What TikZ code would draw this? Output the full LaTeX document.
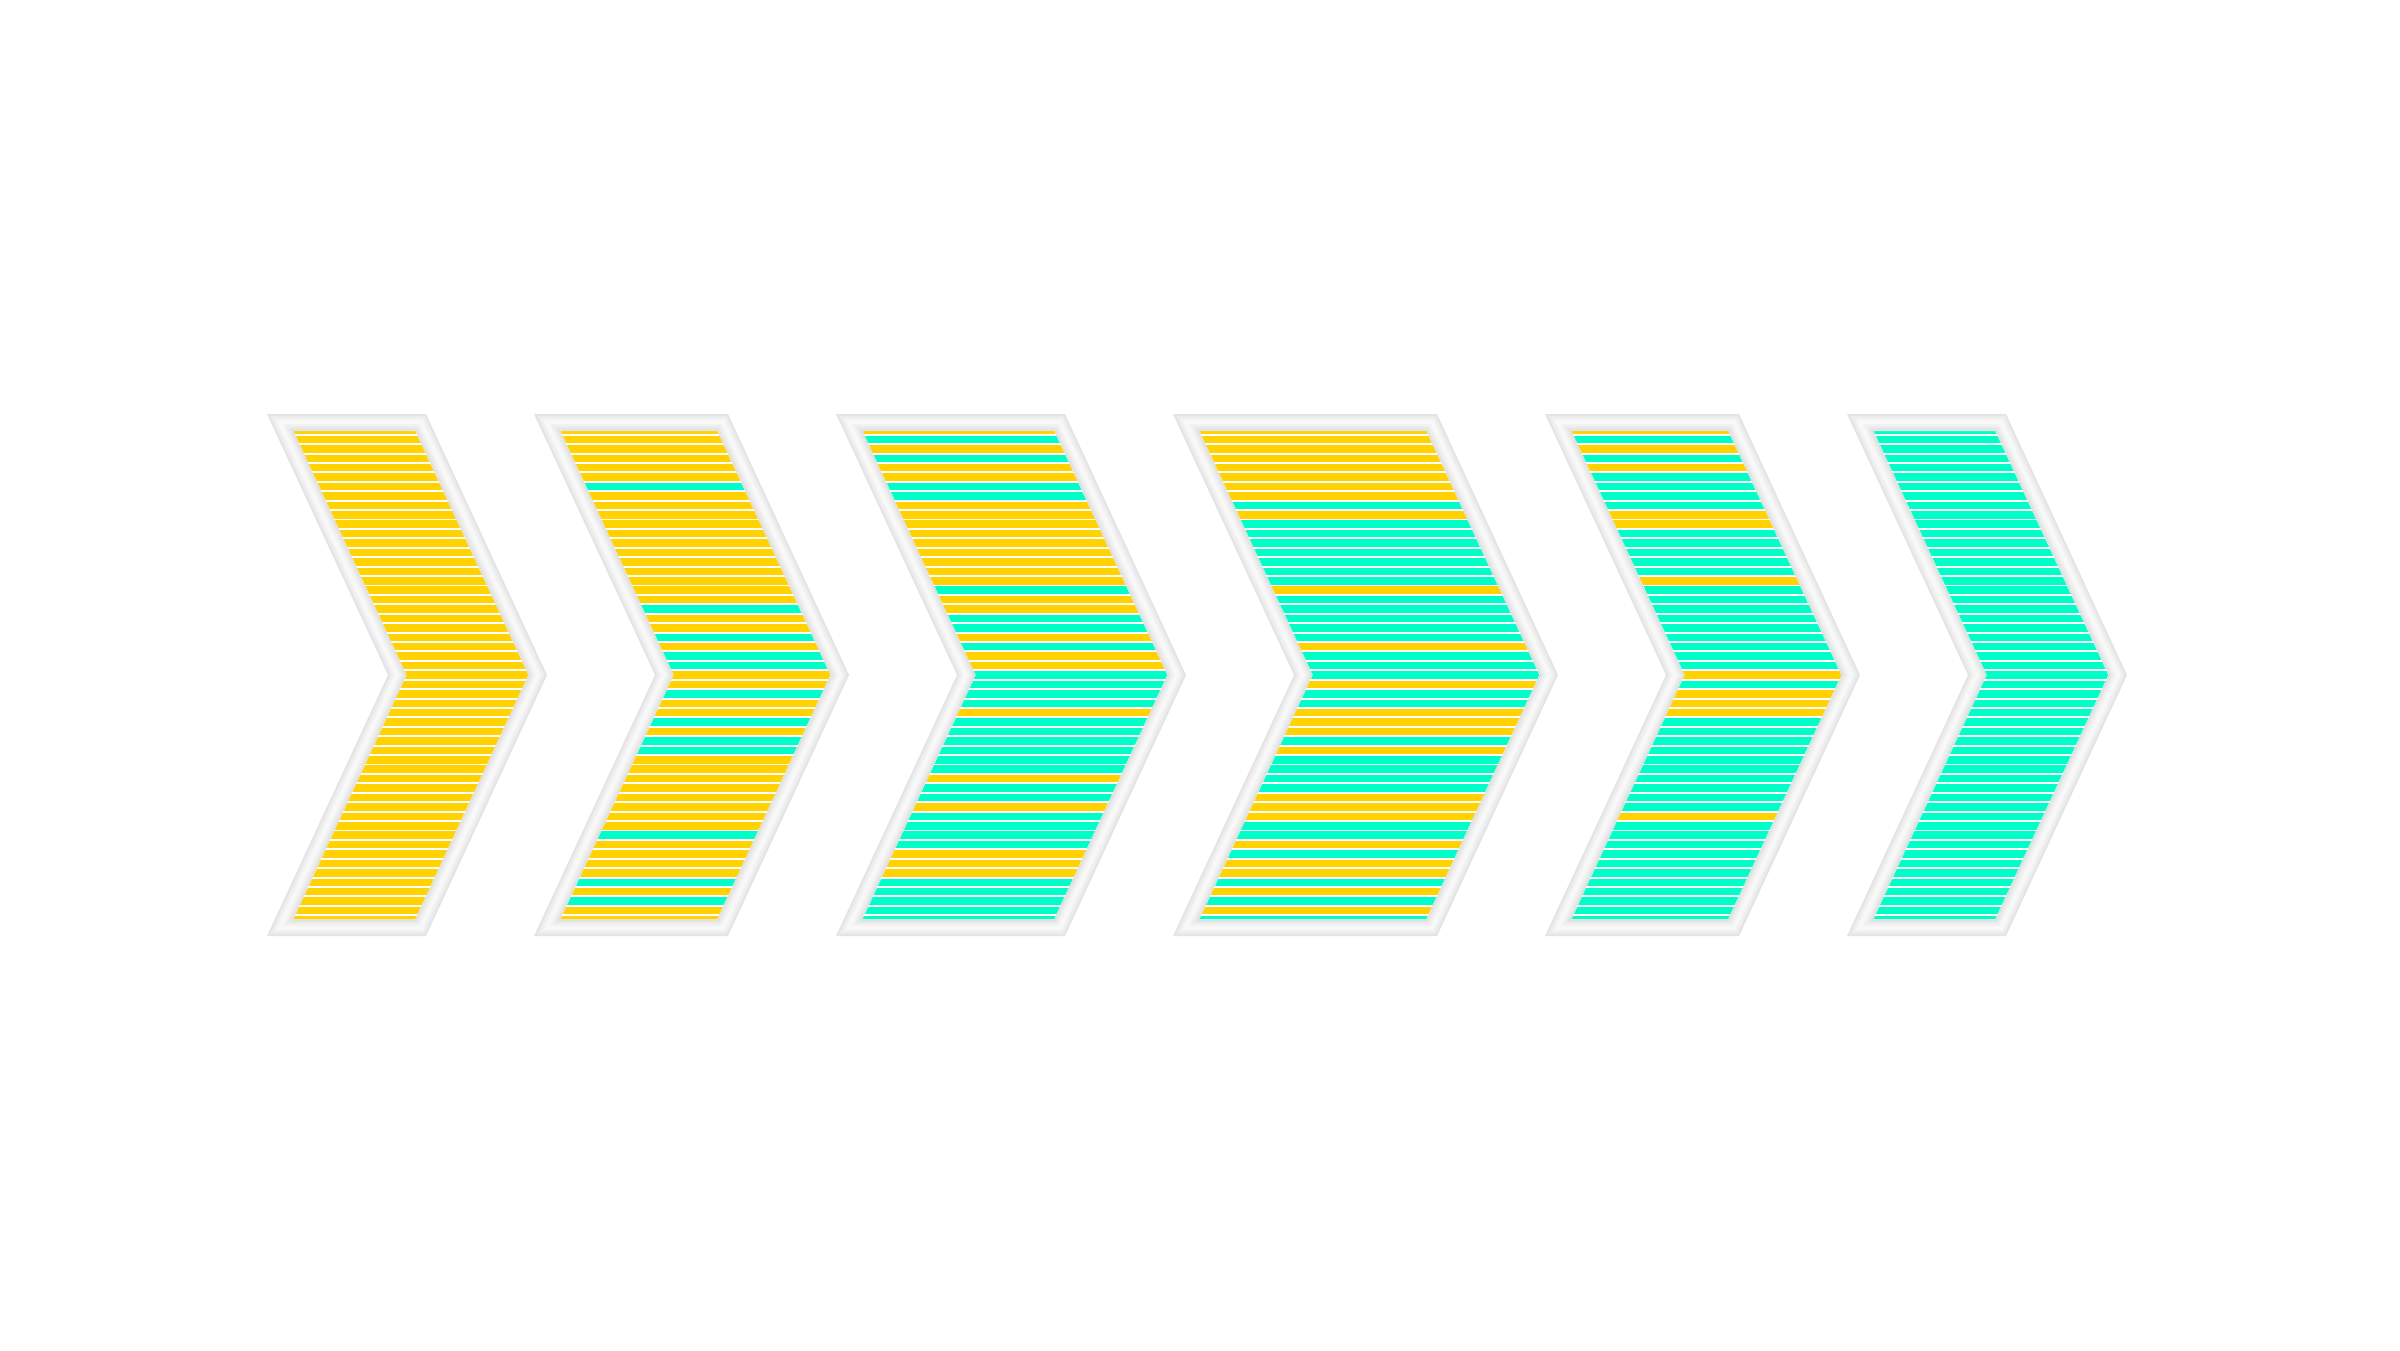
\documentclass[tikz,border=0pt]{standalone}
\definecolor{Y}{RGB}{255,210,0}
\definecolor{T}{RGB}{0,255,200}
\definecolor{bdA}{RGB}{228,228,228}
\definecolor{bdB}{RGB}{236,236,236}
\definecolor{bdC}{RGB}{242,242,242}
\definecolor{bdD}{RGB}{248,248,248}
% chevron outline inset by #3 : top-left x = #1, top width = #2
\newcommand{\chevp}[3]{({#1+1.5658*#3},{414+#3}) -- ({#1+#2-0.6386*#3},{414+#3}) -- ({#1+#2+121-1.1022*#3},675) -- ({#1+#2-0.6386*#3},{936-#3}) -- ({#1+1.5658*#3},{936-#3}) -- ({#1+121+1.1022*#3},675) -- cycle}
\newcommand{\drawchev}[3]{%
  \fill[bdA] \chevp{#1}{#2}{0};
  \draw[bdB, line width=12pt, line join=miter] \chevp{#1}{#2}{8};
  \draw[bdC, line width=8pt, line join=miter] \chevp{#1}{#2}{8};
  \draw[bdD, line width=4pt, line join=miter] \chevp{#1}{#2}{8};
  \fill[white] \chevp{#1}{#2}{16};
  \begin{scope}
    \clip \chevp{#1}{#2}{16};
    \foreach \c [count=\j from 0] in {#3} {
      \fill[\c] ({#1-5},{675+9.423*(\j-26)-3.75}) rectangle ({#1+#2+130},{675+9.423*(\j-26)+3.75});
    }
  \end{scope}
  \draw[bdA, line width=1pt, line join=miter] \chevp{#1}{#2}{16.5};
}
\begin{document}
\begin{tikzpicture}[x=1pt,y=-1pt]
\useasboundingbox[fill=white] (0,0) rectangle (2400,1350);
% chevron 1
\drawchev{267}{159}{Y,Y,Y,Y,Y,Y,Y,Y,Y,Y, Y,Y,Y,Y,Y,Y,Y,Y,Y,Y, Y,Y,Y,Y,Y,Y,Y,Y,Y,Y, Y,Y,Y,Y,Y,Y,Y,Y,Y,Y, Y,Y,Y,Y,Y,Y,Y,Y,Y,Y, Y,Y,Y}
% chevron 2
\drawchev{534}{194}{Y,Y,Y,Y,Y,Y,T,Y,Y,Y, Y,Y,Y,Y,Y,Y,Y,Y,Y,T, Y,Y,T,Y,T,T,Y,Y,T,Y, Y,T,Y,T,T,Y,Y,Y,Y,Y, Y,Y,Y,T,Y,Y,Y,Y,T,Y, T,Y,Y}
% chevron 3
\drawchev{836}{229}{Y,T,Y,T,Y,Y,T,T,Y,Y, Y,Y,Y,Y,Y,Y,Y,T,Y,Y, T,T,Y,T,Y,Y,T,T,T,T, Y,T,T,T,T,T,T,Y,T,T, Y,T,T,T,T,Y,Y,Y,T,T, T,T,T}
% chevron 4
\drawchev{1173}{264}{Y,Y,Y,Y,Y,Y,Y,Y,T,Y, T,T,T,T,T,T,T,Y,T,T, T,T,T,Y,T,T,T,Y,T,T, Y,Y,Y,T,Y,T,T,T,T,Y, Y,Y,T,T,Y,T,Y,Y,T,Y, T,Y,T}
% chevron 5
\drawchev{1545}{194}{Y,T,Y,T,Y,T,T,T,T,Y, Y,T,T,T,T,T,Y,T,T,T, T,T,T,T,T,T,Y,T,Y,Y, Y,T,T,T,T,T,T,T,T,T, T,Y,T,T,T,T,T,T,T,T, T,T,T}
% chevron 6
\drawchev{1847}{159}{T,T,T,T,T,T,T,T,T,T, T,T,T,T,T,T,T,T,T,T, T,T,T,T,T,T,T,T,T,T, T,T,T,T,T,T,T,T,T,T, T,T,T,T,T,T,T,T,T,T, T,T,T}
\end{tikzpicture}
\end{document}
